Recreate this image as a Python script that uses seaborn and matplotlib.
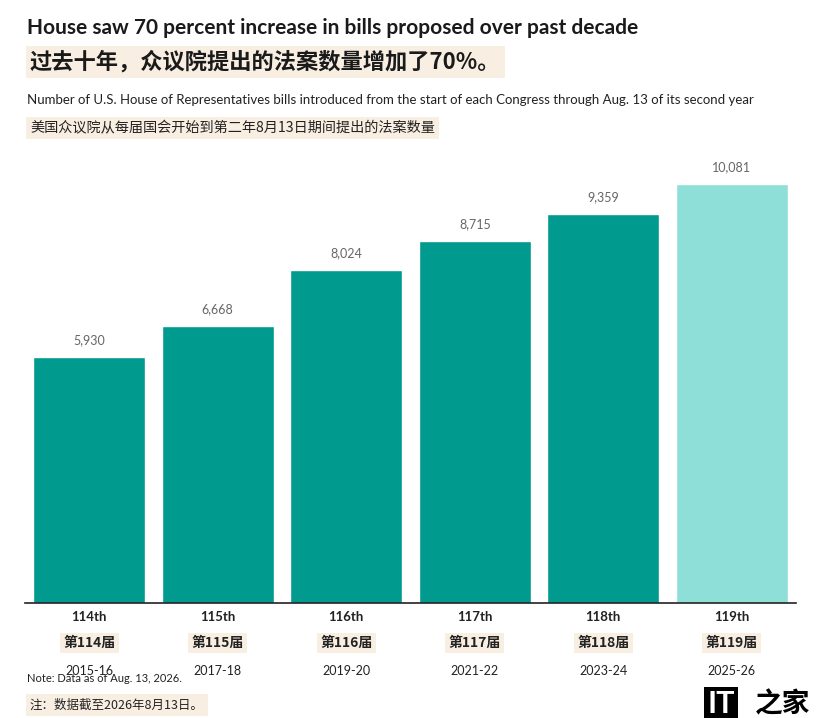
import pandas as pd
import seaborn as sns
import matplotlib.pyplot as plt

# Data
congress = ['114th', '115th', '116th', '117th', '118th', '119th']
congress_cn = ['第114届', '第115届', '第116届', '第117届', '第118届', '第119届']
years = ['2015-16', '2017-18', '2019-20', '2021-22', '2023-24', '2025-26']
bills = [5930, 6668, 8024, 8715, 9359, 10081]
bar_colors = ['#009A8E', '#009A8E', '#009A8E', '#009A8E', '#009A8E', '#8FDFD9']

df = pd.DataFrame({'congress': congress, 'bills': bills})

sns.set_theme(style='white')
plt.rcParams['font.family'] = ['Lato', 'Noto Sans CJK SC', 'DejaVu Sans']
cjk = ['Noto Sans CJK SC', 'DejaVu Sans']
beige = '#F8EFE2'

fig = plt.figure(figsize=(8.25, 7.18), dpi=100)
ax = fig.add_axes([25 / 825, 1 - 603 / 718, 771 / 825, 453 / 718])

sns.barplot(data=df, x='congress', y='bills', hue='congress', palette=bar_colors,
            legend=False, width=0.875, saturation=1, ax=ax)
ax.set_xlim(-0.5, 5.5)
ax.set_ylim(0, 10900)
ax.set_xlabel('')
ax.set_ylabel('')
ax.set_yticks([])
ax.set_xticks([])
for s in ['top', 'right', 'left']:
    ax.spines[s].set_visible(False)
ax.spines['bottom'].set_color('#222222')
ax.spines['bottom'].set_linewidth(1.2)

# value labels
for i, v in enumerate(bills):
    ax.text(i, v + 250, f'{v:,}', ha='center', va='bottom', fontsize=9, color='#666666')

# category labels below axis
for i in range(len(congress)):
    ax.annotate(congress[i], xy=(i, 0), xycoords=('data', 'axes fraction'),
                xytext=(0, -14), textcoords='offset pixels', ha='center', va='center',
                fontsize=9.5, fontweight='bold', color='#222222')
    ax.annotate(congress_cn[i], xy=(i, 0), xycoords=('data', 'axes fraction'),
                xytext=(0, -40), textcoords='offset pixels', ha='center', va='center',
                fontsize=10, fontweight='bold', color='#222222', family=cjk,
                bbox=dict(boxstyle='square,pad=0.25', fc=beige, ec='none'))
    ax.annotate(years[i], xy=(i, 0), xycoords=('data', 'axes fraction'),
                xytext=(0, -68), textcoords='offset pixels', ha='center', va='center',
                fontsize=9, color='#222222')

# titles
fig.text(27 / 825, 1 - 28 / 718, 'House saw 70 percent increase in bills proposed over past decade',
         fontsize=15, fontweight='bold', color='#1a1a1a', va='center', ha='left')
fig.text(30 / 825, 1 - 62 / 718, '过去十年，众议院提出的法案数量增加了70%。',
         fontsize=16, fontweight='bold', color='#1a1a1a', va='center', ha='left', family=cjk,
         bbox=dict(boxstyle='square,pad=0.2', fc=beige, ec='none'))
fig.text(27 / 825, 1 - 100 / 718,
         'Number of U.S. House of Representatives bills introduced from the start of each Congress through Aug. 13 of its second year',
         fontsize=9.5, color='#222222', va='center', ha='left')
fig.text(30 / 825, 1 - 128 / 718, '美国众议院从每届国会开始到第二年8月13日期间提出的法案数量',
         fontsize=10.2, color='#222222', va='center', ha='left', family=cjk,
         bbox=dict(boxstyle='square,pad=0.3', fc=beige, ec='none'))

# notes
fig.text(27 / 825, 1 - 679 / 718, 'Note: Data as of Aug. 13, 2026.',
         fontsize=8, color='#222222', va='center', ha='left')
fig.text(30 / 825, 1 - 705 / 718, '注：数据截至2026年8月13日。',
         fontsize=9, color='#222222', va='center', ha='left', family=cjk,
         bbox=dict(boxstyle='square,pad=0.35', fc=beige, ec='none'))

# watermark
fig.text(707 / 825, 1 - 704 / 718, 'IT', fontsize=22, fontweight='bold', color='white',
         va='center', ha='left', bbox=dict(boxstyle='square,pad=0.1', fc='black', ec='none'))
fig.text(755 / 825, 1 - 704 / 718, '之家', fontsize=20, fontweight='bold', color='black',
         va='center', ha='left', family=cjk)

fig.savefig('out.png', dpi=100)
